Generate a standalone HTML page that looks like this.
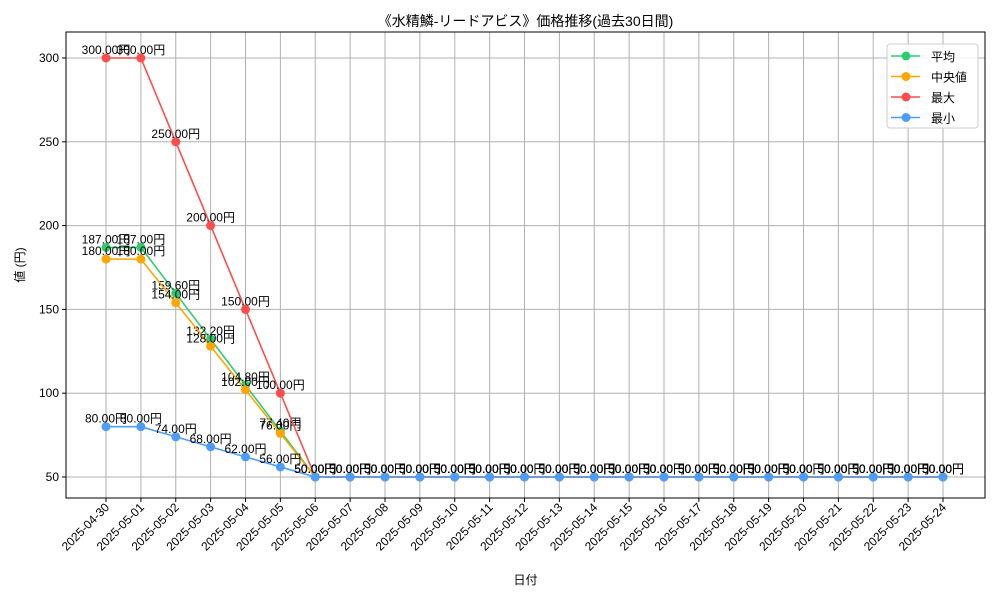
<!DOCTYPE html>
<html><head><meta charset="utf-8"><style>
body{margin:0;background:#fff;}
svg{font-family:"Liberation Sans","Noto Sans CJK JP",sans-serif;}
</style></head><body>
<svg id="c" width="1000" height="600"></svg>
<script>
const dates=["2025-04-30","2025-05-01","2025-05-02","2025-05-03","2025-05-04","2025-05-05","2025-05-06","2025-05-07","2025-05-08","2025-05-09","2025-05-10","2025-05-11","2025-05-12","2025-05-13","2025-05-14","2025-05-15","2025-05-16","2025-05-17","2025-05-18","2025-05-19","2025-05-20","2025-05-21","2025-05-22","2025-05-23","2025-05-24"];
const meanVals=[187,187,159.6,132.2,104.8,77.4,50,50,50,50,50,50,50,50,50,50,50,50,50,50,50,50,50,50,50];
const medianVals=[180,180,154,128,102,76,50,50,50,50,50,50,50,50,50,50,50,50,50,50,50,50,50,50,50];
const maxVals=[300,300,250,200,150,100,50,50,50,50,50,50,50,50,50,50,50,50,50,50,50,50,50,50,50];
const minVals=[80,80,74,68,62,56,50,50,50,50,50,50,50,50,50,50,50,50,50,50,50,50,50,50,50];
const yTicks=[50,100,150,200,250,300];
const seriesNames=["平均","中央値","最大","最小"];
const NS="http://www.w3.org/2000/svg";
const svg=document.getElementById('c');
const L=66,R=985,T=32,B=498;
const x=i=>106+i*(943-106)/(dates.length-1);
const y=v=>477-(v-50)*(477-58)/250;
function el(t,a,p){const e=document.createElementNS(NS,t);for(const k in a)e.setAttribute(k,a[k]);(p||svg).appendChild(e);return e;}
function tx(s,a,p){const e=el('text',a,p);e.textContent=s;return e;}
const grid=el('g',{});


dates.forEach((d,i)=>{
 el('line',{x1:x(i),x2:x(i),y1:T,y2:B,stroke:'#b0b0b0','stroke-width':1},grid);
 el('line',{x1:x(i),x2:x(i),y1:B,y2:B+4,stroke:'#000'});
 const t=tx(d,{x:x(i)+4,y:B+10,'font-size':12,'text-anchor':'end',transform:`rotate(-45 ${x(i)+4} ${B+10})`});
 
 
});
yTicks.forEach(v=>{
 el('line',{x1:L,x2:R,y1:y(v),y2:y(v),stroke:'#b0b0b0','stroke-width':1},grid);
 el('line',{x1:L-4,x2:L,y1:y(v),y2:y(v),stroke:'#000'});
 const t=tx(String(v),{x:L-7,y:y(v)+4,'font-size':12,'text-anchor':'end'});
 
 
});
const colors=["#2ecc71","#ffa500","#ff4d4d","#4d9dff"];
const data=[meanVals,medianVals,maxVals,minVals];
const keys=["mean","median","max","min"];
data.forEach((vals,s)=>{
 const g=el('g',{});
 
 
 el('polyline',{points:vals.map((v,i)=>x(i)+','+y(v)).join(' '),fill:'none',stroke:colors[s],'stroke-width':1.6},g);
 vals.forEach((v,i)=>{
  const c=el('circle',{cx:x(i),cy:y(v),r:4.5,fill:colors[s]},g);
  
  
  tx(v.toFixed(2)+'円',{x:x(i),y:y(v)-4,'font-size':12,'text-anchor':'middle'},g);
 });
});
el('rect',{x:L,y:T,width:R-L,height:B-T,fill:'none',stroke:'#000','stroke-width':1});
const title=tx('《水精鱗-リードアビス》価格推移(過去30日間)',{x:(L+R)/2,y:26,'font-size':14,'text-anchor':'middle'});

const xt=tx('日付',{x:(L+R)/2,y:584,'font-size':12,'text-anchor':'middle'});

const yt=tx('値 (円)',{x:24,y:(T+B)/2,'font-size':12,'text-anchor':'middle',transform:`rotate(-90 24 ${(T+B)/2})`});

const lg=el('g',{});


el('rect',{x:887,y:44,width:91,height:84,rx:3,fill:'#fff','fill-opacity':0.85,stroke:'#ccc'},lg);
seriesNames.forEach((n,i)=>{
 const yy=56+i*20.5;
 const e=el('g',{},lg);
 
 
 el('line',{x1:891,x2:920,y1:yy,y2:yy,stroke:colors[i],'stroke-width':1.6},e);
 el('circle',{cx:906,cy:yy,r:4.5,fill:colors[i]},e);
 tx(n,{x:931,y:yy+5,'font-size':12},e);
});
</script>
</body></html>
